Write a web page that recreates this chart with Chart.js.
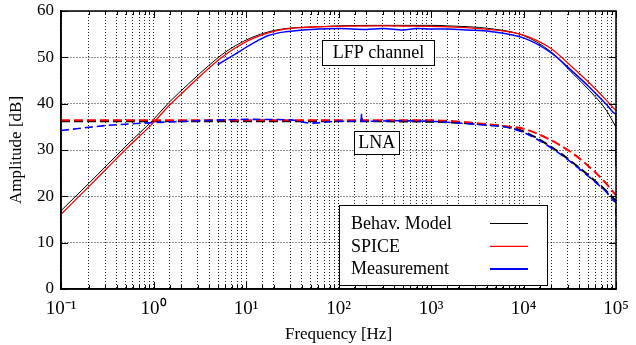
<!DOCTYPE html>
<html>
<head>
<meta charset="utf-8">
<script src="https://cdn.jsdelivr.net/npm/chart.js@4.4.0/dist/chart.umd.min.js"></script>
<style>
  html, body { margin: 0; padding: 0; background: #fff; }
</style>
</head>
<body>
<canvas id="chart" width="636" height="345"></canvas>
<script>
// LFP channel (solid lines)
let lfpFreq = [0.1, 0.2, 0.316, 0.5, 1, 1.46, 2.4, 3.94, 5.5, 7.66, 11.6, 17.5, 26.5, 61, 100, 300, 1000, 1500, 4370, 10000, 19500, 34500, 52000, 79000, 100000];
let lfpBehav = [16.9, 22.8, 26.8, 30.8, 36.6, 40.2, 44.3, 48.2, 50.6, 52.5, 54.3, 55.5, 56.2, 56.6, 56.8, 56.9, 56.9, 56.8, 56.2, 54.7, 51.3, 46.4, 42.8, 38.5, 34.9];
let lfpSpice = [16.1, 22.1, 26.1, 30.1, 35.9, 39.5, 43.6, 47.6, 50.0, 52.0, 54.0, 55.3, 56.1, 56.6, 56.7, 56.8, 56.7, 56.6, 56.0, 54.8, 52.0, 47.7, 44.4, 40.7, 38.5];
let lfpMeasFreq = [4.93, 7.66, 11.6, 17.5, 26.5, 61, 100, 200, 300, 500, 700, 1000, 1500, 2500, 4370, 10000, 19500, 34500, 52000, 79000, 100000, 100000];
let lfpMeas = [48.4, 50.7, 52.9, 54.7, 55.5, 56.1, 56.2, 56.0, 56.2, 55.9, 56.2, 56.1, 56.1, 55.9, 55.6, 54.2, 51.1, 46.8, 43.5, 39.8, 37.8, 26.5];

// LNA (dashed lines)
let lnaFreq = [0.1, 1, 10, 100, 1000, 1500, 4370, 6600, 10000, 19500, 34500, 52000, 79000, 100000];
let lnaBehav = [36.2, 36.2, 36.2, 36.2, 36.1, 36.0, 35.4, 35.0, 34.0, 30.8, 27.2, 24.3, 21.1, 19.0];
let lnaSpice = [36.4, 36.4, 36.4, 36.4, 36.4, 36.3, 35.5, 35.1, 34.6, 32.2, 29.2, 26.3, 22.7, 20.2];
let lnaMeasFreq = [0.1, 0.316, 1, 3.16, 10, 30, 50, 100, 175, 178, 181, 400, 1000, 1500, 4370, 6600, 10000, 19500, 34500, 52000, 79000, 100000, 100000];
let lnaMeas = [34.2, 35.3, 35.9, 36.3, 36.6, 36.5, 35.8, 36.2, 36.2, 37.8, 36.2, 36.3, 36.2, 36.0, 35.3, 34.9, 33.8, 30.6, 27.0, 24.1, 20.9, 18.8, 13.3];

let seriesNames = ['Behav. Model', 'SPICE', 'Measurement'];
let seriesColors = ['#000000', '#ff0000', '#0000ff'];
let xTickExps = [-1, 0, 1, 2, 3, 4, 5];
let xTickLabels = ['10\u207B\u00B9', '10\u2070', '10\u00B9', '10\u00B2', '10\u00B3', '10\u2074', '10\u2075'];

const serif = "'Liberation Serif', 'Times New Roman', serif";

function pts(xs, ys) {
  return xs.map((f, i) => ({x: f, y: ys[i]}));
}

function ds(label, xs, ys, color, width, dash) {
  return {
    label: label,
    data: pts(xs, ys),
    borderColor: color,
    backgroundColor: color,
    borderWidth: width,
    borderDash: dash || [],
    pointRadius: 0,
    fill: false,
    cubicInterpolationMode: 'monotone'
  };
}

// first dataset is drawn on top
let datasets = [
  ds(seriesNames[2], lfpMeasFreq, lfpMeas, seriesColors[2], 1.5),
  ds(seriesNames[2], lnaMeasFreq, lnaMeas, seriesColors[2], 1.6, [8, 4]),
  ds(seriesNames[1], lfpFreq, lfpSpice, seriesColors[1], 1.3),
  ds(seriesNames[1], lnaFreq, lnaSpice, seriesColors[1], 2, [9, 4]),
  ds(seriesNames[0], lfpFreq, lfpBehav, seriesColors[0], 1),
  ds(seriesNames[0], lnaFreq, lnaBehav, seriesColors[0], 2, [9, 4])
];

function labelBox(ctx, text, cx, cy, w, h) {
  ctx.fillStyle = '#fff';
  ctx.fillRect(cx - w / 2, cy - h / 2, w, h);
  ctx.strokeStyle = '#000';
  ctx.lineWidth = 1;
  ctx.strokeRect(Math.round(cx - w / 2) + 0.5, Math.round(cy - h / 2) + 0.5, w, h);
  ctx.fillStyle = '#000';
  ctx.textAlign = 'center';
  ctx.textBaseline = 'middle';
  ctx.fillText(text, cx, cy + 1);
}

const framePlugin = {
  id: 'frame',
  afterDatasetsDraw(chart) {
    const {ctx, chartArea: a, scales: {x, y}} = chart;
    ctx.save();
    ctx.strokeStyle = '#000';
    ctx.lineWidth = 1;
    ctx.beginPath();
    x.ticks.forEach(t => {
      const px = Math.round(x.getPixelForValue(t.value)) + 0.5;
      const len = t.major ? 7 : 4;
      ctx.moveTo(px, a.bottom); ctx.lineTo(px, a.bottom - len);
      ctx.moveTo(px, a.top); ctx.lineTo(px, a.top + len);
    });
    y.ticks.forEach(t => {
      const py = Math.round(y.getPixelForValue(t.value)) + 0.5;
      ctx.moveTo(a.left, py); ctx.lineTo(a.left + 7, py);
      ctx.moveTo(a.right, py); ctx.lineTo(a.right - 7, py);
    });
    ctx.stroke();
    ctx.lineWidth = 1.5;
    ctx.strokeRect(a.left, a.top, a.right - a.left, a.bottom - a.top);

    // curve group labels
    ctx.font = '18px ' + serif;
    labelBox(ctx, 'LFP channel', x.getPixelForValue(270), y.getPixelForValue(51.1), 112, 25);
    labelBox(ctx, 'LNA', x.getPixelForValue(259), y.getPixelForValue(31.7), 45, 23);

    // legend
    const lx = a.right - 277, ly = a.bottom - 84, lw = 208, lh = 80;
    ctx.fillStyle = '#fff';
    ctx.fillRect(lx, ly, lw, lh);
    ctx.lineWidth = 1;
    ctx.strokeRect(lx + 0.5, ly + 0.5, lw, lh);
    const widths = [1, 1.3, 2];
    seriesNames.forEach((name, i) => {
      const ry = ly + 18 + i * 22.8;
      ctx.fillStyle = '#000';
      ctx.textAlign = 'left';
      ctx.textBaseline = 'middle';
      ctx.fillText(name, lx + 12, ry + 1);
      ctx.strokeStyle = seriesColors[i];
      ctx.lineWidth = widths[i];
      ctx.beginPath();
      ctx.moveTo(lx + 151, ry + 0.5);
      ctx.lineTo(lx + 189, ry + 0.5);
      ctx.stroke();
    });
    ctx.restore();
  }
};

new Chart(document.getElementById('chart'), {
  type: 'line',
  data: {datasets: datasets},
  plugins: [framePlugin],
  options: {
    responsive: false,
    animation: false,
    devicePixelRatio: 1,
    layout: {padding: {top: 11, right: 20, left: 0, bottom: 0}},
    plugins: {legend: {display: false}, tooltip: {enabled: false}},
    scales: {
      x: {
        type: 'logarithmic',
        min: 0.1,
        max: 100000,
        afterFit: s => { s.height = 56; s.paddingLeft = 0; s.paddingRight = 0; },
        grid: {color: 'rgba(0,0,0,0.85)', lineWidth: 1, drawTicks: false},
        border: {display: true, color: '#000', width: 1.5, dash: [1, 2]},
        title: {display: true, text: 'Frequency [Hz]', color: '#000', font: {family: serif, size: 17}, padding: {top: 3, bottom: 0}},
        ticks: {
          autoSkip: false,
          maxRotation: 0,
          padding: 9,
          color: '#000',
          font: {family: serif, size: 19},
          callback: function (value) {
            const e = Math.log10(value);
            const r = Math.round(e);
            if (Math.abs(e - r) < 1e-6) return xTickLabels[xTickExps.indexOf(r)];
            return '';
          }
        }
      },
      y: {
        min: 0,
        max: 60,
        afterFit: s => { s.width = 61; s.paddingTop = 0; s.paddingBottom = 0; },
        grid: {color: 'rgba(0,0,0,0.85)', lineWidth: 1, drawTicks: false},
        border: {display: true, color: '#000', width: 1.5, dash: [1, 2]},
        title: {display: true, text: 'Amplitude [dB]', color: '#000', font: {family: serif, size: 17}, padding: {top: 6, bottom: 0}},
        ticks: {stepSize: 10, padding: 7, color: '#000', font: {family: serif, size: 17}}
      }
    }
  }
});
</script>
</body>
</html>
